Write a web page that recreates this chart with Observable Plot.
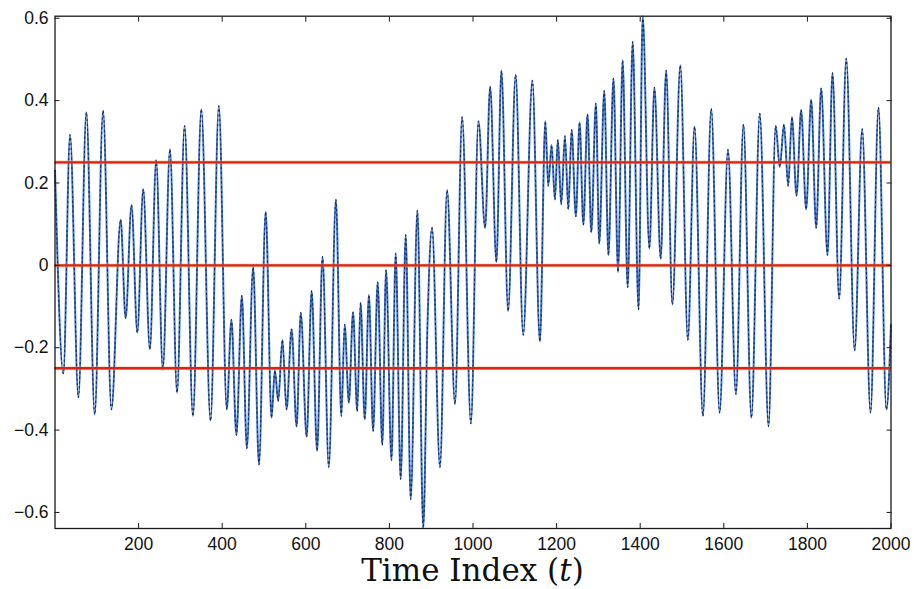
<!DOCTYPE html>
<html>
<head>
<meta charset="utf-8">
<script src="https://cdn.jsdelivr.net/npm/d3@7"></script>
<script src="https://cdn.jsdelivr.net/npm/@observablehq/plot@0.6"></script>
<style>
  html, body { margin: 0; padding: 0; background: #fff; }
  #chart svg { display: block; }
</style>
</head>
<body>
<div id="chart"></div>
<script>
// Time indices of the turning points (peaks / troughs)
const timeIndex = [
  0, 20, 36, 56, 75, 95, 115, 135, 157, 169, 183, 197, 211, 227, 242, 258, 275,
  292, 310, 330, 350, 372, 392, 411, 422, 434, 447, 459, 474, 488, 504, 518, 526, 534, 544, 554, 566, 578, 588,
  602, 614, 627, 640, 655, 672, 685, 693, 703, 713, 723, 731, 741, 751, 761, 772, 783, 792, 805, 815, 827, 839, 851, 867, 881,
  891, 902, 921, 938, 957, 974, 995, 1013, 1029, 1041, 1056, 1068, 1084, 1102, 1120, 1142, 1160, 1173,
  1180, 1188, 1196, 1203, 1211, 1220, 1228, 1236, 1246, 1255, 1264, 1274, 1283, 1294, 1302, 1314, 1324, 1336, 1347, 1358, 1370, 1382, 1396, 1406, 1422, 1434, 1449, 1462, 1477,
  1496, 1514, 1530, 1550, 1570, 1590, 1610, 1629, 1647, 1666, 1686, 1707, 1724, 1734, 1744, 1754, 1763, 1774,
  1785, 1797, 1809, 1821, 1833, 1848, 1860, 1876, 1893, 1913, 1931, 1951, 1970, 1989, 2000
];
// Signal values at those time indices
const signal = [
  0.23, -0.263, 0.317, -0.321, 0.372, -0.362, 0.376, -0.35, 0.111, -0.128, 0.146, -0.163, 0.185, -0.204, 0.255, -0.253, 0.282,
  -0.309, 0.339, -0.366, 0.379, -0.377, 0.387, -0.35, -0.132, -0.412, -0.074, -0.444, -0.004, -0.484, 0.130, -0.37, -0.255, -0.329, -0.181, -0.35, -0.155, -0.391, -0.115,
  -0.416, -0.062, -0.451, 0.021, -0.49, 0.160, -0.366, -0.144, -0.333, -0.114, -0.354, -0.091, -0.374, -0.072, -0.402, -0.041, -0.436, -0.011, -0.473, 0.029, -0.519, 0.074, -0.568, 0.133, -0.638,
  -0.148, 0.091, -0.49, 0.183, -0.337, 0.36, -0.384, 0.35, 0.091, 0.434, 0.008, 0.473, -0.111, 0.463, -0.169, 0.449, -0.185, 0.35,
  0.193, 0.292, 0.16, 0.305, 0.148, 0.314, 0.136, 0.329, 0.119, 0.347, 0.099, 0.366, 0.081, 0.393, 0.053, 0.424, 0.025, 0.454, -0.016, 0.498, -0.053, 0.543, -0.107, 0.605, 0.041, 0.432, 0.016, 0.473, -0.095,
  0.486, -0.181, 0.337, -0.366, 0.38, -0.358, 0.281, -0.313, 0.342, -0.37, 0.369, -0.391, 0.339, 0.239, 0.342, 0.193, 0.36, 0.169,
  0.377, 0.136, 0.402, 0.091, 0.43, 0.025, 0.467, -0.081, 0.502, -0.206, 0.331, -0.358, 0.383, -0.35, -0.144
];
// Horizontal reference levels (red lines)
const referenceLevels = [0.25, 0, -0.25];
// Axis ticks
const xTicks = [200, 400, 600, 800, 1000, 1200, 1400, 1600, 1800, 2000];
const yTicks = [-0.6, -0.4, -0.2, 0, 0.2, 0.4, 0.6];
const xTitle = "Time Index";
const xTitleVar = "t";
const xDomain = [0, 2000];
const yDomain = [-0.639, 0.605];

const series = timeIndex.map((t, i) => ({t, v: signal[i]}));

const W = 914, H = 589;
const mL = 54.5, mR = 23.5, mT = 15.7, mB = 61;

const chart = Plot.plot({
  width: W,
  height: H,
  marginLeft: mL,
  marginRight: mR,
  marginTop: mT,
  marginBottom: mB,
  x: {domain: xDomain},
  y: {domain: yDomain},
  style: {fontFamily: "'Liberation Sans', Arial, Helvetica, sans-serif", fontSize: "17.5px", color: "#111", background: "#fff"},
  marks: [
    Plot.line(series, {x: "t", y: "v", curve: "monotone-x", stroke: "#3a6fc4", strokeWidth: 2}),
    Plot.line(series, {x: "t", y: "v", curve: "monotone-x", stroke: "#17275e", strokeWidth: 1.1, strokeDasharray: "1.2 3.6"}),
    Plot.ruleY(referenceLevels, {stroke: "#f2a23a", strokeWidth: 3.8, strokeOpacity: 0.5}),
    Plot.ruleY(referenceLevels, {stroke: "#d8231b", strokeWidth: 2.4}),
    Plot.frame({stroke: "#1a1a1a", strokeWidth: 1.3}),
    Plot.axisX({ticks: xTicks, anchor: "bottom", tickSize: -5, tickPadding: 14, label: null, tickFormat: d => String(d), stroke: "#1a1a1a"}),
    Plot.axisX({ticks: xTicks, anchor: "top", tickSize: -5, label: null, tickFormat: () => "", stroke: "#1a1a1a"}),
    Plot.axisY({ticks: yTicks, anchor: "left", tickSize: -5, tickPadding: 11.5, label: null, tickFormat: d => d === 0 ? "0" : d3.format(".1f")(d).replace("-", "\u2212"), stroke: "#1a1a1a"}),
    Plot.axisY({ticks: yTicks, anchor: "right", tickSize: -5, label: null, tickFormat: () => "", stroke: "#1a1a1a"})
  ]
});

// x-axis title (serif, with italic variable), centred under the frame
const svg = d3.select(chart);
const cx = (chart.scale("x").apply(xDomain[0]) + chart.scale("x").apply(xDomain[1])) / 2;
const title = svg.append("text")
  .attr("x", cx)
  .attr("y", H - 8)
  .attr("text-anchor", "middle")
  .style("font-family", "'DejaVu Serif', 'Liberation Serif', serif")
  .style("font-size", "31px")
  .style("fill", "#111");
title.append("tspan").text(xTitle + " (");
title.append("tspan").style("font-style", "italic").text(xTitleVar);
title.append("tspan").text(")");

document.getElementById("chart").appendChild(chart);
</script>
</body>
</html>
